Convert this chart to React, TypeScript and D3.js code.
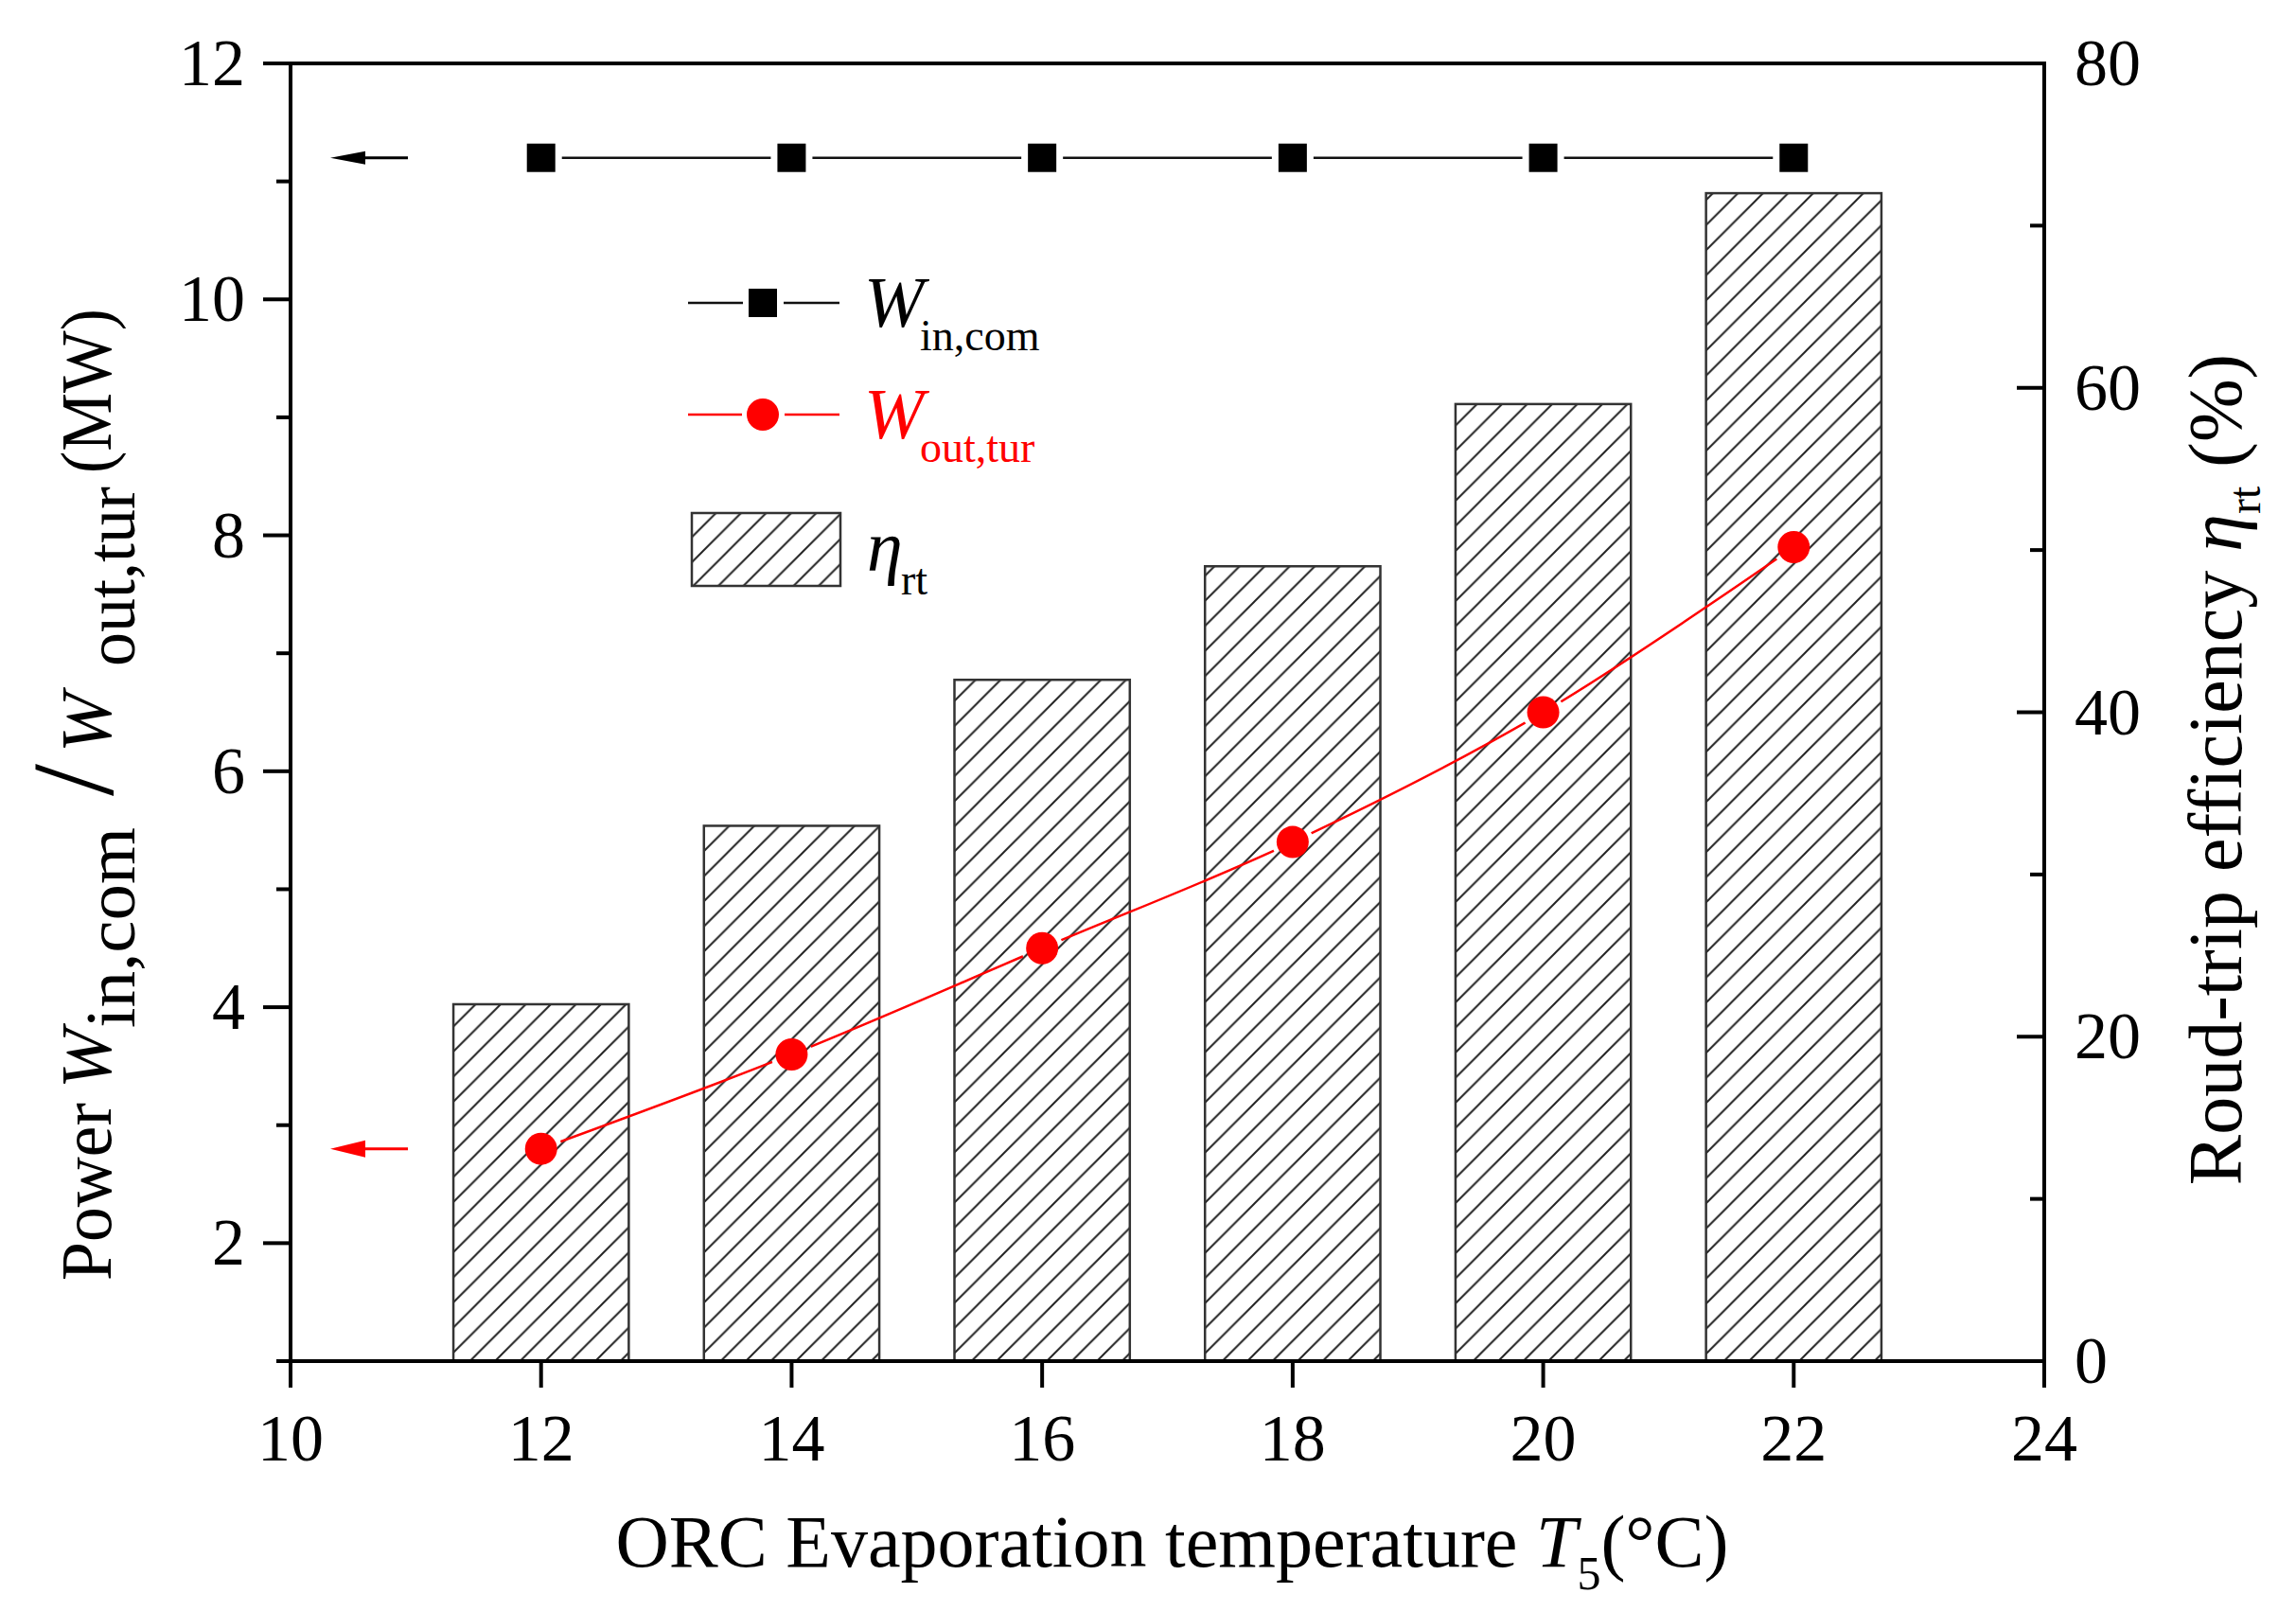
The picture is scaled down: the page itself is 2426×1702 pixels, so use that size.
import React, { useRef, useEffect } from 'react';
import * as d3 from 'd3';

// values
const temps = [12, 14, 16, 18, 20, 22];
const wInCom = [11.2, 11.2, 11.2, 11.2, 11.2, 11.2];
const wOutTur = [2.8, 3.6, 4.5, 5.4, 6.5, 7.9];
const etaRt = [22, 33, 42, 49, 59, 72];

const xTicks = [10, 12, 14, 16, 18, 20, 22, 24];
const yLeftTicks = [2, 4, 6, 8, 10, 12];
const yLeftMinor = [1, 3, 5, 7, 9, 11];
const yRightTicks = [0, 20, 40, 60, 80];
const yRightMinor = [10, 30, 50, 70];

const FONT = '"Liberation Serif", "Times New Roman", serif';
const RED = '#ff0000';

const App: React.FC = () => {
  const svgRef = useRef<SVGSVGElement | null>(null);

  useEffect(() => {
    const width = 2426;
    const height = 1702;
    const margin = { top: 67, right: 266, bottom: 264, left: 307 };
    const svg = d3.select(svgRef.current);
    svg.selectAll('*').remove();
    svg.attr('width', width).attr('height', height);

    const x = d3.scaleLinear().domain([10, 24]).range([margin.left, width - margin.right]);
    const yL = d3.scaleLinear().domain([1, 12]).range([height - margin.bottom, margin.top]);
    const yR = d3.scaleLinear().domain([0, 80]).range([height - margin.bottom, margin.top]);
    const x0 = x.range()[0], x1 = x.range()[1];
    const y0 = yL.range()[0], y1 = yL.range()[1];

    const defs = svg.append('defs');
    const pat = defs.append('pattern')
      .attr('id', 'hatch')
      .attr('patternUnits', 'userSpaceOnUse')
      .attr('width', 26.5)
      .attr('height', 26.5);
    pat.append('rect').attr('width', 26.5).attr('height', 26.5).attr('fill', '#fff');
    pat.append('path')
      .attr('d', 'M0,26.5 L26.5,0 M-6,6 L6,-6 M20.5,32.5 L32.5,20.5')
      .attr('stroke', '#222')
      .attr('stroke-width', 2);

    // masks to leave gaps in the lines around the markers
    const mIn = defs.append('mask').attr('id', 'gapIn').attr('maskUnits', 'userSpaceOnUse')
      .attr('x', 0).attr('y', 0).attr('width', width).attr('height', height);
    mIn.append('rect').attr('width', width).attr('height', height).attr('fill', '#fff');
    temps.forEach((t, i) => {
      mIn.append('rect').attr('x', x(t) - 22).attr('y', yL(wInCom[i]) - 22)
        .attr('width', 44).attr('height', 44).attr('fill', '#000');
    });
    const mOut = defs.append('mask').attr('id', 'gapOut').attr('maskUnits', 'userSpaceOnUse')
      .attr('x', 0).attr('y', 0).attr('width', width).attr('height', height);
    mOut.append('rect').attr('width', width).attr('height', height).attr('fill', '#fff');
    temps.forEach((t, i) => {
      mOut.append('circle').attr('cx', x(t)).attr('cy', yL(wOutTur[i])).attr('r', 22).attr('fill', '#000');
    });

    // bars (right axis)
    svg.append('g')
      .selectAll('rect')
      .data(temps)
      .enter()
      .append('rect')
      .attr('x', d => x(d - 0.7))
      .attr('y', (d, i) => yR(etaRt[i]))
      .attr('width', d => x(d + 0.7) - x(d - 0.7))
      .attr('height', (d, i) => yR(0) - yR(etaRt[i]))
      .attr('fill', 'url(#hatch)')
      .attr('stroke', '#333')
      .attr('stroke-width', 2.5);

    // frame
    const frame = svg.append('g').attr('stroke', '#000').attr('stroke-width', 4).attr('stroke-linecap', 'square');
    frame.append('line').attr('x1', x0).attr('x2', x1).attr('y1', y0).attr('y2', y0);
    frame.append('line').attr('x1', x0).attr('x2', x1).attr('y1', y1).attr('y2', y1);
    frame.append('line').attr('x1', x0).attr('x2', x0).attr('y1', y0).attr('y2', y1);
    frame.append('line').attr('x1', x1).attr('x2', x1).attr('y1', y0).attr('y2', y1);

    const ticks = svg.append('g').attr('stroke', '#000').attr('stroke-width', 4);
    xTicks.forEach(t => {
      ticks.append('line').attr('x1', x(t)).attr('x2', x(t)).attr('y1', y0).attr('y2', y0 + 28);
    });
    yLeftTicks.forEach(t => {
      ticks.append('line').attr('x1', x0 - 29).attr('x2', x0).attr('y1', yL(t)).attr('y2', yL(t));
    });
    yLeftMinor.forEach(t => {
      ticks.append('line').attr('x1', x0 - 15).attr('x2', x0).attr('y1', yL(t)).attr('y2', yL(t));
    });
    yRightTicks.forEach(t => {
      ticks.append('line').attr('x1', x1 - 29).attr('x2', x1).attr('y1', yR(t)).attr('y2', yR(t));
    });
    yRightMinor.forEach(t => {
      ticks.append('line').attr('x1', x1 - 15).attr('x2', x1).attr('y1', yR(t)).attr('y2', yR(t));
    });

    const labels = svg.append('g').style('font-family', FONT).style('font-size', '70px').attr('fill', '#000');
    xTicks.forEach(t => {
      labels.append('text').attr('x', x(t)).attr('y', y0 + 105).attr('text-anchor', 'middle').text(t);
    });
    yLeftTicks.forEach(t => {
      labels.append('text').attr('x', x0 - 48).attr('y', yL(t) + 23).attr('text-anchor', 'end').text(t);
    });
    yRightTicks.forEach(t => {
      labels.append('text').attr('x', x1 + 32).attr('y', yR(t) + 23).attr('text-anchor', 'start').text(t);
    });

    // W_in,com series
    const lineIn = d3.line<number>().x((d, i) => x(temps[i])).y(d => yL(d));
    svg.append('path')
      .attr('d', lineIn(wInCom))
      .attr('fill', 'none')
      .attr('stroke', '#111')
      .attr('stroke-width', 2.5)
      .attr('mask', 'url(#gapIn)');
    svg.append('g')
      .selectAll('rect')
      .data(wInCom)
      .enter()
      .append('rect')
      .attr('x', (d, i) => x(temps[i]) - 15)
      .attr('y', d => yL(d) - 15)
      .attr('width', 30)
      .attr('height', 30)
      .attr('fill', '#000');

    // W_out,tur series
    const lineOut = d3.line<number>().x((d, i) => x(temps[i])).y(d => yL(d)).curve(d3.curveCatmullRom.alpha(0.5));
    svg.append('path')
      .attr('d', lineOut(wOutTur))
      .attr('fill', 'none')
      .attr('stroke', RED)
      .attr('stroke-width', 2.5)
      .attr('mask', 'url(#gapOut)');
    svg.append('g')
      .selectAll('circle')
      .data(wOutTur)
      .enter()
      .append('circle')
      .attr('cx', (d, i) => x(temps[i]))
      .attr('cy', d => yL(d))
      .attr('r', 17)
      .attr('fill', RED);

    // arrows pointing to the left axis
    const arrow = (yy: number, color: string, half: number) => {
      const tip = x0 + 42;
      svg.append('line').attr('x1', tip + 20).attr('x2', tip + 82).attr('y1', yy).attr('y2', yy)
        .attr('stroke', color).attr('stroke-width', 3);
      svg.append('path')
        .attr('d', `M${tip},${yy} L${tip + 37},${yy - half} L${tip + 37},${yy + half} Z`)
        .attr('fill', color);
    };
    arrow(yL(wInCom[0]), '#000', 7);
    arrow(yL(wOutTur[0]), RED, 9);

    // legend
    const lg = svg.append('g');
    lg.append('line').attr('x1', 727).attr('x2', 785).attr('y1', 320).attr('y2', 320).attr('stroke', '#111').attr('stroke-width', 2.5);
    lg.append('line').attr('x1', 828).attr('x2', 887).attr('y1', 320).attr('y2', 320).attr('stroke', '#111').attr('stroke-width', 2.5);
    lg.append('rect').attr('x', 791).attr('y', 305).attr('width', 30).attr('height', 30).attr('fill', '#000');
    lg.append('line').attr('x1', 727).attr('x2', 784).attr('y1', 438).attr('y2', 438).attr('stroke', RED).attr('stroke-width', 2.5);
    lg.append('line').attr('x1', 829).attr('x2', 887).attr('y1', 438).attr('y2', 438).attr('stroke', RED).attr('stroke-width', 2.5);
    lg.append('circle').attr('cx', 806).attr('cy', 438).attr('r', 17).attr('fill', RED);
    lg.append('rect').attr('x', 731).attr('y', 542).attr('width', 157).attr('height', 77)
      .attr('fill', 'url(#hatch)').attr('stroke', '#333').attr('stroke-width', 2.5);

    const lt = lg.append('g').style('font-family', FONT);
    lt.append('text').attr('x', 913).attr('y', 345).style('font-size', '76px').style('font-style', 'italic').text('W');
    lt.append('text').attr('x', 972).attr('y', 370).style('font-size', '46px').text('in,com');
    lt.append('text').attr('x', 913).attr('y', 463).style('font-size', '76px').style('font-style', 'italic').attr('fill', RED).text('W');
    lt.append('text').attr('x', 972).attr('y', 488).style('font-size', '46px').attr('fill', RED).text('out,tur');
    lt.append('text').attr('x', 916).attr('y', 603).style('font-size', '76px').style('font-style', 'italic').text('η');
    lt.append('text').attr('x', 952).attr('y', 628).style('font-size', '46px').text('rt');

    // x axis title
    const xt = svg.append('text')
      .attr('x', (x0 + x1) / 2 + 5)
      .attr('y', 1655)
      .attr('text-anchor', 'middle')
      .style('font-family', FONT)
      .style('font-size', '78px');
    xt.append('tspan').text('ORC Evaporation temperature ');
    xt.append('tspan').style('font-style', 'italic').text('T');
    xt.append('tspan').attr('dy', 24).style('font-size', '50px').text('5');
    xt.append('tspan').attr('dy', -24).text('(°C)');

    // left axis title (rotated): local x = -screenY, local y = screenX - 117
    const ly = svg.append('g')
      .attr('transform', 'translate(117,0) rotate(-90)')
      .style('font-family', FONT);
    ly.append('text').attr('x', -1353).attr('y', 0).style('font-size', '76px')
      .attr('textLength', 188).attr('lengthAdjust', 'spacingAndGlyphs').text('Power');
    ly.append('text').attr('x', -1150).attr('y', 0).style('font-size', '76px').style('font-style', 'italic').text('W');
    ly.append('text').attr('x', -1086).attr('y', 25).style('font-size', '74px')
      .attr('textLength', 212).attr('lengthAdjust', 'spacingAndGlyphs').text('in,com');
    ly.append('text').attr('x', -841).attr('y', 2).style('font-size', '122px').text('/');
    ly.append('text').attr('x', -795).attr('y', 0).style('font-size', '76px').style('font-style', 'italic').text('W');
    ly.append('text').attr('x', -704).attr('y', 25).style('font-size', '74px')
      .attr('textLength', 190).attr('lengthAdjust', 'spacingAndGlyphs').text('out,tur');
    ly.append('text').attr('x', -500).attr('y', 0).style('font-size', '76px')
      .attr('textLength', 174).attr('lengthAdjust', 'spacingAndGlyphs').text('(MW)');

    // right axis title (rotated)
    const ry = svg.append('text')
      .attr('transform', 'translate(2368,813) rotate(-90)')
      .attr('text-anchor', 'middle')
      .style('font-family', FONT)
      .style('font-size', '80px');
    ry.append('tspan').text('Roud-trip efficiency ');
    ry.append('tspan').style('font-style', 'italic').text('η');
    ry.append('tspan').attr('dy', 20).style('font-size', '48px').text('rt');
    ry.append('tspan').attr('dy', -20).text(' (%)');
  }, []);

  return (
    <svg
      ref={svgRef}
      style={{ position: 'absolute', left: 0, top: 0, background: '#fff', display: 'block' }}
    ></svg>
  );
};

export default App;
